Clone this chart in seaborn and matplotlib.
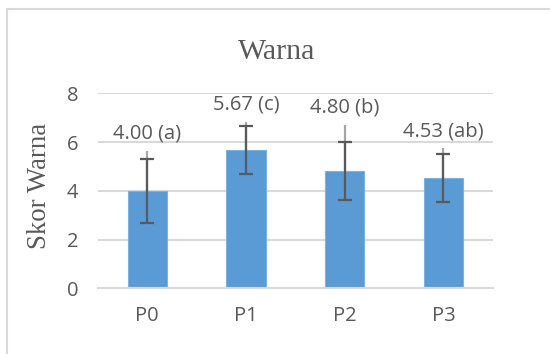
import pandas as pd
import numpy as np
import matplotlib.pyplot as plt
import seaborn as sns
from matplotlib.patches import Rectangle

# data
perlakuan = ["P0", "P1", "P2", "P3"]
skor = [4.00, 5.67, 4.80, 4.53]
sd = [1.31, 1.00, 1.19, 0.98]
batas_atas = [5.64, 6.83, 6.69, 5.74]   # light upper whisker
notasi = ["a", "c", "b", "ab"]

df = pd.DataFrame({"Perlakuan": perlakuan, "Skor": skor})

sns.set_style("white")
plt.rcParams['font.family'] = ['Open Sans', 'DejaVu Sans']

teks = "#595959"
fig = plt.figure(figsize=(5.5, 3.54), dpi=100)
ax = fig.add_axes([0.178, 0.1856, 0.718, 0.5508])

sns.barplot(data=df, x="Perlakuan", y="Skor", color="#5B9BD5", width=0.4,
            errorbar=None, saturation=1, edgecolor="#7FB1DE", linewidth=0.8,
            ax=ax, zorder=2)

x = np.arange(len(perlakuan))
# light part of the whisker
ax.vlines(x, skor, batas_atas, color="#A6A6A6", linewidth=1.6, zorder=3)
# dark error bars with caps
ax.errorbar(x, skor, yerr=sd, fmt="none", ecolor="#595959", elinewidth=1.6,
            capsize=5, capthick=1.6, zorder=4)

for xi, top, val, n in zip(x, batas_atas, skor, notasi):
    ax.annotate(f"{val:.2f} ({n})", (xi, top), xytext=(0, 12.5),
                textcoords="offset points", ha="center", va="center",
                fontsize=14.5, color=teks)

ax.set_ylim(0, 8)
ax.set_xlim(-0.5, 3.5)
ax.set_yticks([0, 2, 4, 6, 8])
ax.yaxis.grid(True, color="#D9D9D9", linewidth=1.5, zorder=0)
ax.set_axisbelow(True)
for s in ["top", "right", "left"]:
    ax.spines[s].set_visible(False)
ax.spines["bottom"].set_color("#D9D9D9")
ax.spines["bottom"].set_linewidth(1.5)
ax.tick_params(axis="both", length=0, labelsize=14.5, colors=teks)
ax.tick_params(axis="y", pad=14)
ax.tick_params(axis="x", pad=13)
ax.set_xlabel("")
ax.set_ylabel("")

fig.text(0.5036, 0.853, "Warna", ha="center", va="center", fontsize=21.5,
         family="Liberation Serif", color=teks)
fig.text(0.0727, 0.476, "Skor Warna", ha="center", va="center", rotation=90,
         fontsize=19.3, family="Liberation Serif", color=teks)

# chart border
fig.patches.append(Rectangle((7 / 550, -0.1), 1.2, (354 - 9) / 354 + 0.1,
                             transform=fig.transFigure, fill=False,
                             edgecolor="#D9D9D9", linewidth=1.5))

fig.savefig("out.png", dpi=100)
